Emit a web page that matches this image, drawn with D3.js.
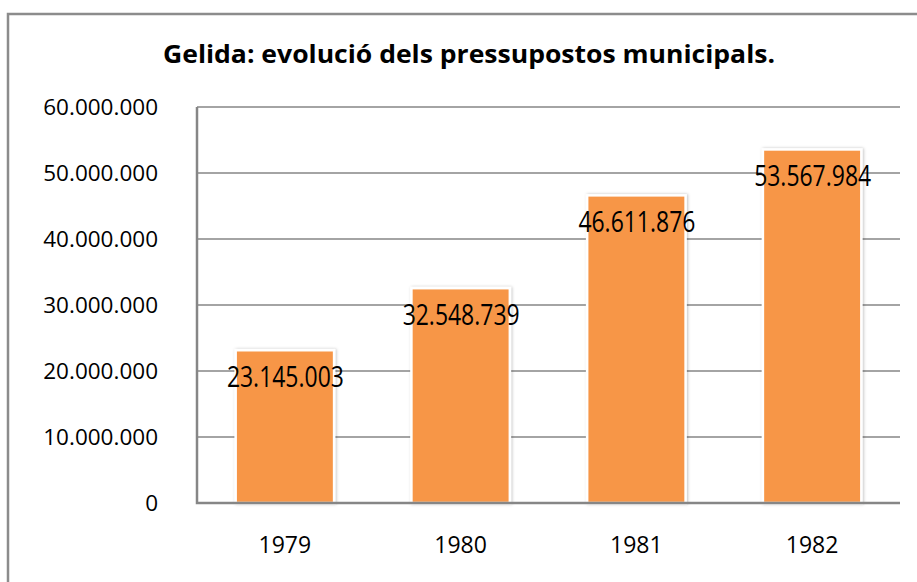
<!DOCTYPE html>
<html>
<head>
<meta charset="utf-8">
<style>
  body { margin: 0; background: #fff; }
  svg { display: block; }
</style>
<script src="https://cdn.jsdelivr.net/npm/d3@7"></script>
</head>
<body>
<script>
var years = ["1979", "1980", "1981", "1982"];
var budgets = [23145003, 32548739, 46611876, 53567984];
var yTicks = [0, 10000000, 20000000, 30000000, 40000000, 50000000, 60000000];
var title = "Gelida: evolució dels pressupostos municipals.";

var W = 917, H = 582;
var plot = {left: 197, right: 900, top: 107, bottom: 503};

var svg = d3.select("body").append("svg").attr("width", W).attr("height", H);

var defs = svg.append("defs");
var f = defs.append("filter").attr("id", "shadow")
  .attr("x", "-20%").attr("y", "-20%").attr("width", "140%").attr("height", "140%");
f.append("feDropShadow").attr("dx", 1).attr("dy", 0).attr("stdDeviation", 1.5)
  .attr("flood-color", "#000").attr("flood-opacity", 0.25);

// outer frame
svg.append("rect").attr("x", 8).attr("y", 14).attr("width", 940).attr("height", 600)
  .attr("fill", "none").attr("stroke", "#8c8c8c").attr("stroke-width", 2.5);

// title
svg.append("text")
  .attr("x", 163).attr("y", 63)
  .attr("textLength", 612).attr("lengthAdjust", "spacingAndGlyphs")
  .style("font", "bold 25px 'Open Sans', sans-serif")
  .attr("fill", "#000")
  .text(title);

var x = d3.scaleBand().domain(years).range([plot.left, plot.right]).paddingInner(0.44).paddingOuter(0.22);
var y = d3.scaleLinear().domain([0, 60000000]).range([plot.bottom, plot.top]);

var fmt = function(v) { return d3.format(",")(v).replace(/,/g, "."); };

// gridlines
svg.append("g").selectAll("line").data(yTicks.slice(1)).enter().append("line")
  .attr("x1", plot.left).attr("x2", plot.right)
  .attr("y1", function(d) { return y(d); }).attr("y2", function(d) { return y(d); })
  .attr("stroke", "#868686").attr("stroke-width", 1.5);

// y labels
svg.append("g").selectAll("text").data(yTicks).enter().append("text")
  .attr("x", 158).attr("y", function(d) { return y(d); })
  .attr("dy", "0.35em").attr("text-anchor", "end")
  .style("font", "22.5px 'Open Sans', sans-serif").attr("fill", "#000")
  .text(function(d) { return fmt(d); });

// bars
svg.append("g").selectAll("rect").data(budgets).enter().append("rect")
  .attr("x", function(d, i) { return x(years[i]); })
  .attr("y", function(d) { return y(d); })
  .attr("width", x.bandwidth())
  .attr("height", function(d) { return plot.bottom - y(d); })
  .attr("fill", "#F79646").attr("stroke", "#fff").attr("stroke-width", 2.5)
  .attr("filter", "url(#shadow)");

// axis lines
svg.append("path")
  .attr("d", "M" + plot.left + "," + plot.top + "V" + plot.bottom + "H" + plot.right)
  .attr("fill", "none").attr("stroke", "#868686").attr("stroke-width", 2.5);

// data labels
svg.append("g").selectAll("text").data(budgets).enter().append("text")
  .attr("x", function(d, i) { return x(years[i]) + x.bandwidth() / 2 - 58; })
  .attr("y", function(d) { return y(d) + 37; })
  .attr("textLength", 117).attr("lengthAdjust", "spacingAndGlyphs")
  .style("font", "30px 'Open Sans', sans-serif").attr("fill", "#000")
  .text(function(d) { return fmt(d); });

// x labels
svg.append("g").selectAll("text").data(years).enter().append("text")
  .attr("x", function(d) { return x(d) + x.bandwidth() / 2; })
  .attr("y", 553).attr("text-anchor", "middle")
  .style("font", "23px 'Open Sans', sans-serif").attr("fill", "#000")
  .text(function(d) { return d; });
</script>
</body>
</html>
